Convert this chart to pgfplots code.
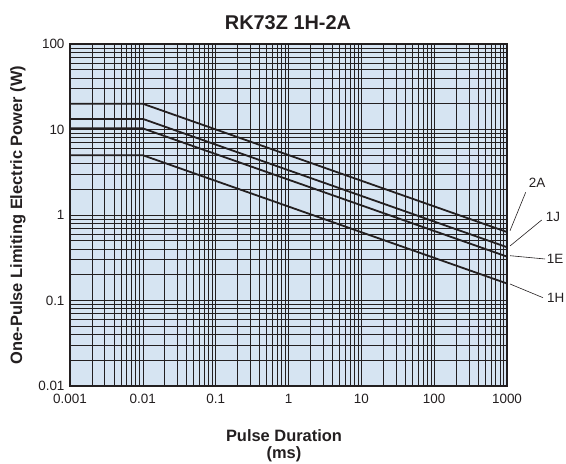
\documentclass[border=0pt]{standalone}
\usepackage{pgfplots}
\pgfplotsset{compat=1.18}
\usepackage{fontspec}
\setmainfont{Liberation Sans}
\definecolor{bgblue}{RGB}{214,228,242}
\definecolor{ink}{RGB}{35,31,32}
\begin{document}
\begin{tikzpicture}[x=1bp,y=1bp]
\path[use as bounding box] (-70,-78) rectangle (496,386);
\begin{axis}[
  at={(0,0)}, anchor=south west,
  scale only axis, width=437bp, height=342bp,
  xmode=log, ymode=log,
  xmin=0.001, xmax=1000, ymin=0.01, ymax=100,
  axis background/.style={fill=bgblue},
  axis line style={line width=1.2bp, ink},
  xtick={0.001,0.01,0.1,1,10,100,1000},
  xticklabels={0.001,0.01,0.1,1,10,100,1000},
  ytick={0.01,0.1,1,10,100},
  yticklabels={0.01,0.1,1,10,100},
  minor xtick={0.002,0.003,0.004,0.005,0.006,0.007,0.008,0.009,
    0.02,0.03,0.04,0.05,0.06,0.07,0.08,0.09,
    0.2,0.3,0.4,0.5,0.6,0.7,0.8,0.9,
    2,3,4,5,6,7,8,9,20,30,40,50,60,70,80,90,
    200,300,400,500,600,700,800,900},
  minor ytick={0.02,0.03,0.04,0.05,0.06,0.07,0.08,0.09,
    0.2,0.3,0.4,0.5,0.6,0.7,0.8,0.9,
    2,3,4,5,6,7,8,9,20,30,40,50,60,70,80,90},
  major tick length=0pt, minor tick length=0pt,
  grid=both,
  major grid style={line width=0.65bp, ink},
  minor grid style={line width=0.65bp, ink},
  tick label style={font=\fontsize{13.5}{14}\selectfont, text=ink},
  xticklabel style={yshift=-5bp},
  yticklabel style={xshift=-2bp},
  clip=false,
]
\addplot[line width=1.8bp, ink] coordinates {(0.001,20) (0.01,20) (1000,0.632)};
\addplot[line width=1.8bp, ink] coordinates {(0.001,13.3) (0.01,13.3) (1000,0.42)};
\addplot[line width=1.8bp, ink] coordinates {(0.001,10.3) (0.01,10.3) (1000,0.326)};
\addplot[line width=1.8bp, ink] coordinates {(0.001,5) (0.01,5) (1000,0.158)};
\end{axis}
\draw[ink, line width=0.6bp] (440,155.3) -- (455.7,193.7);
\draw[ink, line width=0.6bp] (440,140) -- (471.7,166);
\draw[ink, line width=0.6bp] (440,130.3) -- (475,127);
\draw[ink, line width=0.6bp] (440,102) -- (473,88.3);
\node[font=\fontsize{13.5}{14}\selectfont, text=ink] at (467,203) {2A};
\node[font=\fontsize{13.5}{14}\selectfont, text=ink] at (483,169) {1J};
\node[font=\fontsize{13.5}{14}\selectfont, text=ink] at (485,127) {1E};
\node[font=\fontsize{13.5}{14}\selectfont, text=ink] at (485.7,88) {1H};
\node[font=\bfseries\fontsize{20}{22}\selectfont, text=ink] at (218,363.4) {RK73Z 1H-2A};
\node[font=\bfseries\fontsize{16.5}{18}\selectfont, text=ink] at (214,-49.7) {Pulse Duration};
\node[font=\bfseries\fontsize{16.5}{18}\selectfont, text=ink] at (214,-68.5) {(ms)};
\node[font=\bfseries\fontsize{16.5}{18}\selectfont, text=ink, rotate=90] at (-52,171) {One-Pulse Limiting Electric Power (W)};
\end{tikzpicture}
\end{document}
